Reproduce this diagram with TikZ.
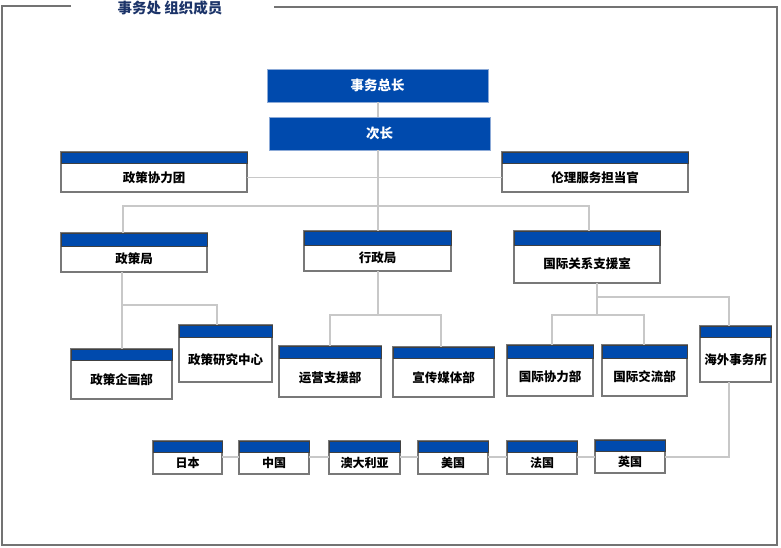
\documentclass[tikz,border=0pt]{standalone}
\usepackage{fontspec}
\setmainfont{Noto Sans CJK SC}
\usetikzlibrary{calc}
\definecolor{hblue}{RGB}{0,74,173}
\definecolor{navy}{RGB}{28,52,105}
\definecolor{lnc}{RGB}{200,200,200}
\definecolor{bord}{RGB}{120,120,120}
\definecolor{lblue}{RGB}{140,170,215}
\tikzset{
  obox/.style={draw=bord, line width=1.1pt, fill=white, anchor=north west, inner sep=0pt, outer sep=0pt},
  hdrbox/.style={draw=black!75, line width=0.8pt, fill=hblue},
  otext/.style={inner sep=0pt, font=\bfseries, text=black},
  topbox/.style={draw=lblue, line width=1pt, fill=hblue, anchor=north west, inner sep=0pt, outer sep=0pt, text=white, font=\bfseries\fontsize{13.5}{14}\selectfont},
  conn/.style={draw=lnc, line width=1.4pt},
  frame/.style={draw=black!55, line width=1.2pt},
  ttl/.style={text=navy, font=\bfseries\fontsize{14.5}{15}\selectfont, inner sep=0pt}
}
\newcommand\obox[8]{%
  \node[obox, minimum width={(#4-#2)*1pt}, minimum height={(#5-#3)*1pt}] (#1) at (#2,#3) {};
  \draw[hdrbox] (#1.north west) rectangle ($(#1.north east)+(0,#6)$);
  \node[otext] (#1t) at ($(#1.center)+(0,#6/2)$) {\fontsize{#7}{#7}\selectfont #8};
}
\begin{document}
\begin{tikzpicture}[x=1pt, y=-1pt]
\useasboundingbox (0,0) rectangle (781,547);
% frame and title
\draw[frame] (71,6) -- (2,6) -- (2,545) -- (777,545) -- (777,7) -- (274,7);
\node[ttl] (title) at (170,8) {事务处 组织成员};

% top boxes
\node[topbox, minimum width=221pt, minimum height=33pt] (dg) at (267,69) {事务总长};
\node[topbox, minimum width=221pt, minimum height=33pt] (ddg) at (269,117) {次长};

% second row
\obox{zcx}{61}{152}{247}{192}{11}{12.5}{政策协力团}
\obox{lfs}{502}{152}{688}{192}{11}{12.5}{伦理服务担当官}

% bureaus
\obox{zcj}{61}{233}{207}{272}{13}{12.5}{政策局}
\obox{xzj}{304}{231}{451}{271}{14}{12.5}{行政局}
\obox{gjs}{514}{231}{660}{283}{14}{12.5}{国际关系支援室}

% departments
\obox{qhb}{71}{349}{172}{399}{11}{12.5}{政策企画部}
\obox{yjz}{179}{325}{272}{382}{12}{12.5}{政策研究中心}
\obox{yyb}{279}{346}{381}{397}{12}{12.5}{运营支援部}
\obox{xcb}{393}{347}{494}{397}{11}{12.5}{宣传媒体部}
\obox{xlb}{507}{345}{593}{396}{13}{12.5}{国际协力部}
\obox{jlb}{602}{345}{687}{396}{13}{12.5}{国际交流部}
\obox{hws}{700}{326}{771}{382}{11}{12.5}{海外事务所}

% overseas offices
\obox{jp}{153}{441}{222}{474}{11}{12}{日本}
\obox{cn}{239}{441}{309}{474}{11}{12}{中国}
\obox{au}{329}{441}{400}{474}{11}{12}{澳大利亚}
\obox{us}{418}{441}{488}{474}{11}{12}{美国}
\obox{fr}{507}{441}{577}{474}{11}{12}{法国}
\obox{uk}{595}{440}{665}{473}{11}{12}{英国}

% connector coordinates
\coordinate (vc) at (378,206);
\coordinate (hl) at (123,206);
\coordinate (hr) at (589,206);
\coordinate (p1) at (122,305);
\coordinate (p2) at (217,305);
\coordinate (a0) at (378,315);
\coordinate (a1) at (330,315);
\coordinate (a2) at (441,315);
\coordinate (g0) at (597,297);
\coordinate (g1) at (729,297);
\coordinate (g4) at (597,315);
\coordinate (g2) at (552,315);
\coordinate (g3) at (644,315);
\coordinate (k) at (729,457);

% connectors
\draw[conn] (dg.south -| vc) -- (ddg.north -| vc);
\draw[conn] (ddg.south -| vc) -- (xzj.north -| vc);
\draw[conn] (zcx.east |- zcxt) -- (lfs.west |- zcxt);
\draw[conn] (hl |- zcj.north) -- (hl) -- (hr) -- (hr |- gjs.north);
\draw[conn] (zcj.south -| p1) -- (qhb.north -| p1);
\draw[conn] (p1) -- (p2) -- (p2 |- yjz.north);
\draw[conn] (xzj.south -| a0) -- (a0);
\draw[conn] (a1 |- yyb.north) -- (a1) -- (a2) -- (a2 |- xcb.north);
\draw[conn] (gjs.south -| g0) -- (g4);
\draw[conn] (g0) -- (g1) -- (g1 |- hws.north);
\draw[conn] (g2 |- xlb.north) -- (g2) -- (g3) -- (g3 |- jlb.north);
\draw[conn] (hws.south -| k) -- (k) -- (uk.east |- k);
\draw[conn] (jp.east |- k) -- (cn.west |- k);
\draw[conn] (cn.east |- k) -- (au.west |- k);
\draw[conn] (au.east |- k) -- (us.west |- k);
\draw[conn] (us.east |- k) -- (fr.west |- k);
\draw[conn] (fr.east |- k) -- (uk.west |- k);
\end{tikzpicture}
\end{document}
